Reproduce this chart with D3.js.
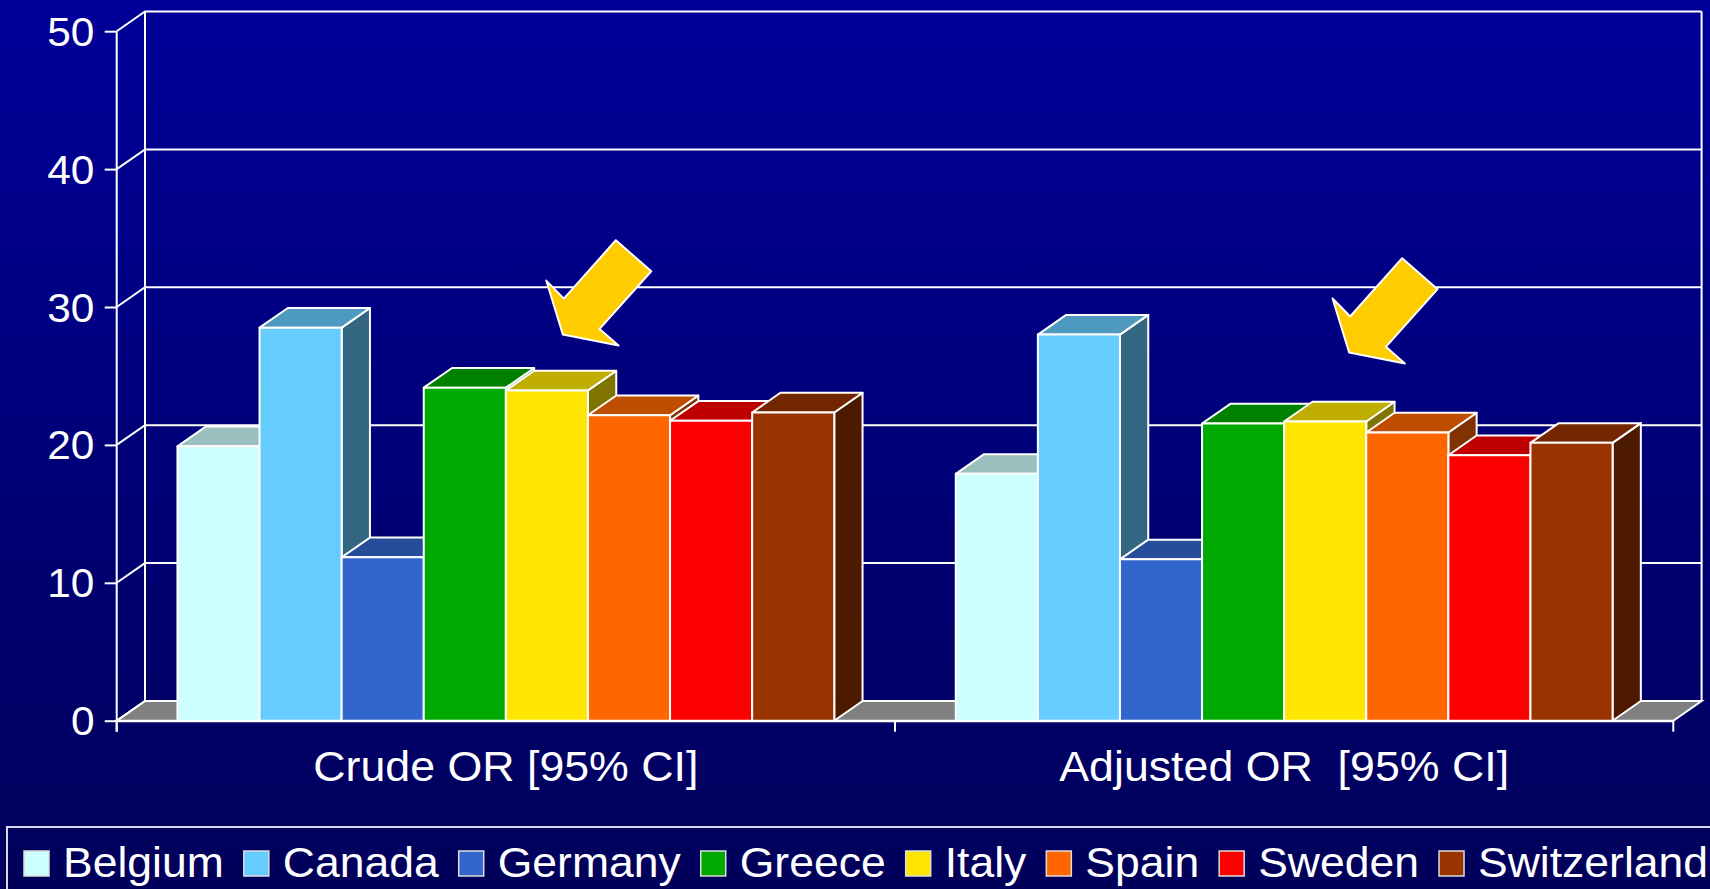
<!DOCTYPE html>
<html>
<head>
<meta charset="utf-8">
<script src="https://cdn.jsdelivr.net/npm/d3@7"></script>
<style>
  html, body { margin: 0; padding: 0; overflow: hidden; background: #000080; }
  text { font-family: "Liberation Sans", Arial, sans-serif; fill: #fff; }
</style>
</head>
<body>
<svg></svg>
<script>
// chart data
const categories = ['Crude OR [95% CI]', 'Adjusted OR  [95% CI]'];
const countries = ['Belgium', 'Canada', 'Germany', 'Greece', 'Italy', 'Spain', 'Sweden', 'Switzerland'];
const crudeValues = [19.9, 28.5, 11.85, 24.15, 23.95, 22.15, 21.75, 22.35];
const adjustedValues = [17.9, 28.0, 11.7, 21.55, 21.7, 20.9, 19.25, 20.15];
const yTicks = [0, 10, 20, 30, 40, 50];
const countryColors = ['#ccffff', '#66ccff', '#3366cc', '#00aa00', '#ffe600', '#ff6600', '#ff0000', '#993300'];

// arrows pointing at the southern countries
const arrowNotes = [
  { category: categories[0], offset: 57, value: 28.0 },
  { category: categories[1], offset: 65, value: 26.7 }
];

const width = 1710;
const height = 889;
const depthX = 28.3;
const depthY = 19.7;
const stretch = 'scale(1.06,1)';   // the original text is a bit wider than Arial

const svg = d3.select('svg')
    .attr('width', width)
    .attr('height', height)

const grad = svg.append('defs')
    .append('linearGradient')
        .attr('id', 'bg')
        .attr('x1', 0).attr('y1', 0)
        .attr('x2', 0).attr('y2', 1)
grad.append('stop').attr('offset', '0%').attr('stop-color', '#000099')
grad.append('stop').attr('offset', '100%').attr('stop-color', '#00005a')

svg.append('rect')
    .attr('width', width)
    .attr('height', height)
    .attr('fill', 'url(#bg)')

const yScale = d3.scaleLinear()
    .domain([0, 50])
    .range([720.7, 31.2])
const xScale = d3.scaleBand()
    .domain(categories)
    .range([116.7, 1673.3])
const countryScale = d3.scaleBand()
    .domain(countries)
    .range([0, xScale.bandwidth()])
    .paddingOuter(0.74)

const x0 = xScale.range()[0];
const x1 = xScale.range()[1];
const y0 = yScale(0);
const yTop = yScale(50);

// floor
svg.append('polygon')
    .attr('points', [[x0, y0], [x0 + depthX, y0 - depthY], [x1 + depthX, y0 - depthY], [x1, y0]].join(' '))
    .attr('fill', '#808080')
    .attr('stroke', '#fff')
    .attr('stroke-width', 2)

// back wall gridlines + left wall lines
svg.selectAll('.grid')
    .data(yTicks)
    .enter()
    .append('polyline')
        .attr('points', d => [[x0, yScale(d)], [x0 + depthX, yScale(d) - depthY], [x1 + depthX, yScale(d) - depthY]].join(' '))
        .attr('fill', 'none')
        .attr('stroke', '#fff')
        .attr('stroke-width', 2)

svg.append('line')
    .attr('x1', x0 + depthX).attr('x2', x0 + depthX)
    .attr('y1', yTop - depthY).attr('y2', y0 - depthY)
    .attr('stroke', '#fff').attr('stroke-width', 2)
svg.append('line')
    .attr('x1', x1 + depthX).attr('x2', x1 + depthX)
    .attr('y1', yTop - depthY).attr('y2', y0 - depthY)
    .attr('stroke', '#fff').attr('stroke-width', 2)

// y axis
const yAxis = d3.axisLeft(yScale)
    .tickValues(yTicks)
    .tickSize(12)
    .tickPadding(9)
const yAxisG = svg.append('g')
    .attr('transform', 'translate(' + x0 + ',0)')
    .call(yAxis)
yAxisG.select('.domain').remove()
yAxisG.selectAll('line').attr('stroke', '#fff').attr('stroke-width', 2)
yAxisG.selectAll('text')
    .attr('font-size', 40)
    .attr('dy', '0.35em')
    .attr('fill', '#fff')
    .attr('transform', stretch)
svg.append('line')
    .attr('x1', x0).attr('x2', x0)
    .attr('y1', yTop).attr('y2', y0 + 11)
    .attr('stroke', '#fff').attr('stroke-width', 2)

// bars
const bars = [];
categories.forEach((c, ci) => {
  const vals = ci === 0 ? crudeValues : adjustedValues;
  countries.forEach((k, i) => bars.push({ category: c, country: k, value: vals[i], color: countryColors[i] }));
});

const barG = svg.selectAll('.bar')
    .data(bars)
    .enter()
    .append('g')
        .attr('stroke', '#fff')
        .attr('stroke-width', 2)
        .attr('stroke-linejoin', 'round')

barG.each(function (d) {
  const g = d3.select(this);
  const bx = xScale(d.category) + countryScale(d.country);
  const bw = countryScale.bandwidth();
  const by = yScale(d.value);
  // side face
  g.append('polygon')
      .attr('points', [[bx + bw, by], [bx + bw + depthX, by - depthY], [bx + bw + depthX, y0 - depthY], [bx + bw, y0]].join(' '))
      .attr('fill', d3.interpolateRgb(d.color, '#000')(0.5))
  // top face
  g.append('polygon')
      .attr('points', [[bx, by], [bx + depthX, by - depthY], [bx + bw + depthX, by - depthY], [bx + bw, by]].join(' '))
      .attr('fill', d3.interpolateRgb(d.color, '#000')(0.25))
  g.append('rect')
      .attr('x', bx)
      .attr('y', by)
      .attr('width', bw)
      .attr('height', y0 - by)
      .attr('fill', d.color)
})

// x axis
const xAxis = d3.axisBottom(xScale)
    .tickSize(0)
    .tickPadding(20)
const xAxisG = svg.append('g')
    .attr('transform', 'translate(0,' + y0 + ')')
    .call(xAxis)
xAxisG.select('.domain').attr('stroke', '#fff').attr('stroke-width', 2)
xAxisG.selectAll('text')
    .attr('font-size', 43)
    .attr('fill', '#fff')
    .style('white-space', 'pre')
    .attr('y', 60)
    .attr('dy', 0)
    .attr('transform', 'scale(1.04,1)')
svg.selectAll('.xtick')
    .data([x0, x0 + xScale.bandwidth(), x1])
    .enter()
    .append('line')
        .attr('x1', d => d).attr('x2', d => d)
        .attr('y1', y0).attr('y2', y0 + 11)
        .attr('stroke', '#fff').attr('stroke-width', 2)

// arrows
const arrowShape = [[53, -94.3], [88.4, -63.3], [36.7, -5.7], [55.7, 11], [0, 0], [-16.6, -54], [1, -36]];
svg.selectAll('.arrow')
    .data(arrowNotes)
    .enter()
    .append('polygon')
        .attr('points', d => {
          const tx = xScale(d.category) + xScale.bandwidth() / 2 + d.offset;
          const ty = yScale(d.value);
          return arrowShape.map(p => [tx + p[0], ty + p[1]]).join(' ');
        })
        .attr('fill', '#ffcc00')
        .attr('stroke', '#fff')
        .attr('stroke-width', 2)
        .attr('stroke-linejoin', 'round')

// legend
svg.append('rect')
    .attr('x', 7)
    .attr('y', 827)
    .attr('width', 1760)
    .attr('height', 100)
    .attr('fill', 'none')
    .attr('stroke', '#d8d8e8')
    .attr('stroke-width', 2)

let lx = 24;
countries.forEach((k, i) => {
  svg.append('rect')
      .attr('x', lx)
      .attr('y', 851)
      .attr('width', 25)
      .attr('height', 25)
      .attr('fill', countryColors[i])
      .attr('stroke', '#ddd')
      .attr('stroke-width', 1.5)
  const t = svg.append('g')
      .attr('transform', 'translate(' + (lx + 39) + ',877) ' + stretch)
    .append('text')
      .attr('font-size', 42)
      .text(k)
  lx += 39 + t.node().getComputedTextLength() * 1.06 + 20;
})
</script>
</body>
</html>
